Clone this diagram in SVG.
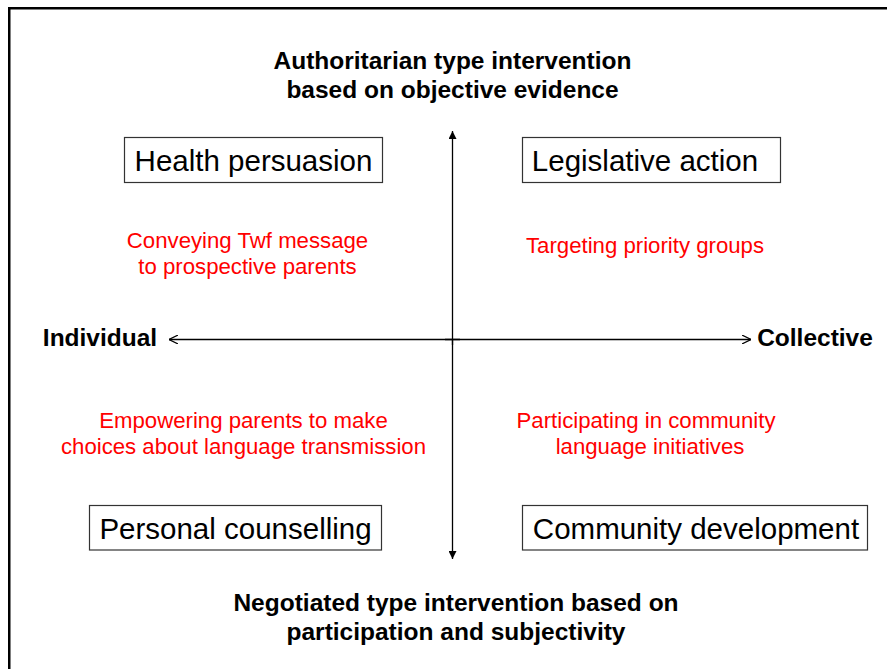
<svg xmlns="http://www.w3.org/2000/svg" width="887" height="669" viewBox="0 0 887 669">
<style>
.frame{fill:none;stroke:#000;stroke-width:2.5}
.box{fill:#fff;stroke:#333;stroke-width:1.2}
.lbl{font-family:"Liberation Sans",Arial,sans-serif;font-size:29.5px;fill:#000;text-anchor:middle}
.red{font-family:"Liberation Sans",Arial,sans-serif;font-size:22.2px;fill:#f00;text-anchor:middle}
.ttl{font-family:"Liberation Sans",Arial,sans-serif;font-size:24.5px;font-weight:bold;fill:#000;text-anchor:middle}
.ax{stroke:#000;stroke-width:1.3;fill:none}
</style>
<defs>
<marker id="fill" viewBox="0 0 10 10" refX="10" refY="5" markerWidth="8" markerHeight="8" markerUnits="userSpaceOnUse" orient="auto">
<path d="M0,0 L10,5 L0,10 z" fill="#000"/>
</marker>
<marker id="open" viewBox="0 0 10 10" refX="10" refY="5" markerWidth="9" markerHeight="9" markerUnits="userSpaceOnUse" orient="auto">
<path d="M0,0 L10,5 L0,10" fill="none" stroke="#000" stroke-width="1.3"/>
</marker>
</defs>
<rect class="frame" x="9.25" y="8.25" width="890" height="680"/>
<g id="connectors">
<line class="ax" x1="452.5" y1="345" x2="452.5" y2="131" marker-end="url(#fill)"/>
<line class="ax" x1="452.5" y1="340" x2="452.5" y2="559" marker-end="url(#fill)"/>
<line class="ax" x1="460" y1="339.5" x2="169" y2="339.5" marker-end="url(#open)"/>
<line class="ax" x1="445" y1="339.5" x2="751" y2="339.5" marker-end="url(#open)"/>
</g>
<g id="title-top">
<text class="ttl" x="452.5" y="69">Authoritarian type intervention</text>
<text class="ttl" x="452.5" y="98">based on objective evidence</text>
</g>
<g id="title-bottom">
<text class="ttl" x="456" y="611">Negotiated type intervention based on</text>
<text class="ttl" x="456" y="640">participation and subjectivity</text>
</g>
<g id="axis-left"><text class="ttl" x="100" y="346">Individual</text></g>
<g id="axis-right"><text class="ttl" x="815" y="346">Collective</text></g>
<g id="health-persuasion">
<rect class="box" x="124.5" y="137.5" width="258" height="45"/>
<text class="lbl" x="253.5" y="170.5">Health persuasion</text>
</g>
<g id="legislative-action">
<rect class="box" x="522.5" y="137.5" width="258" height="45"/>
<text class="lbl" x="645" y="170.5">Legislative action</text>
</g>
<g id="personal-counselling">
<rect class="box" x="89.5" y="505.5" width="292" height="44.5"/>
<text class="lbl" x="235.5" y="538.5">Personal counselling</text>
</g>
<g id="community-development">
<rect class="box" x="522.5" y="505.5" width="345" height="44.5"/>
<text class="lbl" x="696" y="538.5">Community development</text>
</g>
<g id="note-tl">
<text class="red" x="247.5" y="247.5">Conveying Twf message</text>
<text class="red" x="247.5" y="273.5">to prospective parents</text>
</g>
<g id="note-tr">
<text class="red" x="645" y="253">Targeting priority groups</text>
</g>
<g id="note-bl">
<text class="red" x="243.5" y="428">Empowering parents to make</text>
<text class="red" x="243.5" y="454">choices about language transmission</text>
</g>
<g id="note-br">
<text class="red" x="646" y="428">Participating in community</text>
<text class="red" x="650" y="454">language initiatives</text>
</g>
</svg>
